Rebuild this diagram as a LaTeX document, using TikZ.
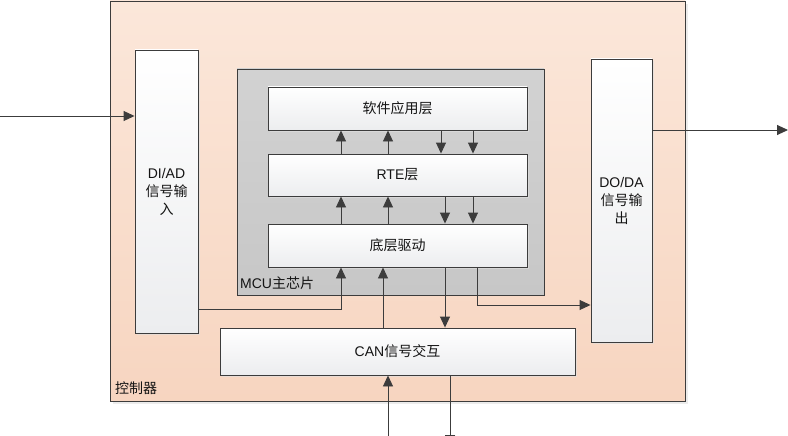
\documentclass[tikz,border=0pt]{standalone}
\usepackage{fontspec}
\setmainfont{Liberation Sans}
\newfontfamily\cjk{Noto Sans CJK SC}
\newcommand{\zh}[1]{{\cjk #1}}
\usetikzlibrary{arrows.meta,shadows}
\definecolor{lineC}{RGB}{60,60,60}
\definecolor{peachTop}{RGB}{251,231,218}
\definecolor{peachBot}{RGB}{247,213,192}
\definecolor{mcuTop}{RGB}{210,210,210}
\definecolor{mcuBot}{RGB}{199,199,199}
\definecolor{boxBot}{RGB}{236,237,239}
\begin{document}
\begin{tikzpicture}[x=1pt,y=-1pt,
  font=\fontsize{14}{18}\selectfont,
  lbl/.style={draw=lineC, line width=0.9pt, inner sep=0pt, align=center,
    top color=white, bottom color=boxBot, text=black!92,
    drop shadow={shadow xshift=2pt, shadow yshift=-2pt, fill=black!12, opacity=0.6}},
  outerbox/.style={draw=lineC, line width=0.9pt, inner sep=0pt,
    top color=peachTop, bottom color=peachBot,
    drop shadow={shadow xshift=3pt, shadow yshift=-3pt, fill=black!12, opacity=0.6}},
  mcubox/.style={draw=lineC, line width=0.9pt, inner sep=0pt,
    top color=mcuTop, bottom color=mcuBot},
  arr/.style={draw=lineC, line width=0.9pt, -{Triangle[length=11pt,width=10pt]}, color=lineC},
  tag/.style={inner sep=0pt, text=black!92}
]
\useasboundingbox (0,0) rectangle (788,436);

% outer controller
\node[outerbox, minimum width=575pt, minimum height=400pt] (ctrl) at (397.5,201) {};
\node[tag, anchor=west] (ctrlLbl) at (115,388) {\zh{控制器}};

% MCU
\node[mcubox, minimum width=307pt, minimum height=226pt] (mcu) at (390.5,182) {};
\node[tag, anchor=west] (mcuLbl) at (240,283) {MCU\zh{主芯片}};

% layers
\node[lbl, minimum width=259pt, minimum height=43pt] (app) at (397.5,108.5) {\zh{软件应用层}};
\node[lbl, minimum width=259pt, minimum height=42pt] (rte) at (397.5,175) {RTE\zh{层}};
\node[lbl, minimum width=259pt, minimum height=43pt] (drv) at (397.5,245.5) {\zh{底层驱动}};

% IO blocks
\node[lbl, minimum width=63pt, minimum height=283pt] (di) at (166.5,191.5) {DI/AD\\\zh{信号输}\\\zh{入}};
\node[lbl, minimum width=61pt, minimum height=283pt] (do) at (621.5,200.5) {DO/DA\\\zh{信号输}\\\zh{出}};
\node[lbl, minimum width=355pt, minimum height=47pt] (can) at (397.5,351.5) {CAN\zh{信号交互}};

% external connectors
\coordinate (inp) at (0,116);
\coordinate (outp) at (788,130);
\coordinate (canin) at (388,436);
\coordinate (canout) at (450,446);
\draw[arr] (inp) -- (inp -| di.west);
\draw[arr] (outp -| do.east) -- (outp);
\draw[arr] (canin) -- (canin |- can.south);
\draw[arr] (can.south -| canout) -- (canout);

% app <-> rte
\draw[arr] (rte.north -| 341,0) -- (app.south -| 341,0);
\draw[arr] (rte.north -| 388,0) -- (app.south -| 388,0);
\draw[arr] (app.south -| 441,0) -- (rte.north -| 441,0);
\draw[arr] (app.south -| 473,0) -- (rte.north -| 473,0);

% rte <-> drv
\draw[arr] (drv.north -| 341,0) -- (rte.south -| 341,0);
\draw[arr] (drv.north -| 388,0) -- (rte.south -| 388,0);
\draw[arr] (rte.south -| 445,0) -- (drv.north -| 445,0);
\draw[arr] (rte.south -| 473,0) -- (drv.north -| 473,0);

% drv connections
\draw[arr] (di.east |- 0,309) -| (drv.south -| 341,0);
\draw[arr] (can.north -| 383,0) -- (drv.south -| 383,0);
\draw[arr] (drv.south -| 445,0) -- (can.north -| 445,0);
\draw[arr] (drv.south -| 477,0) |- (do.west |- 0,305);
\end{tikzpicture}
\end{document}
